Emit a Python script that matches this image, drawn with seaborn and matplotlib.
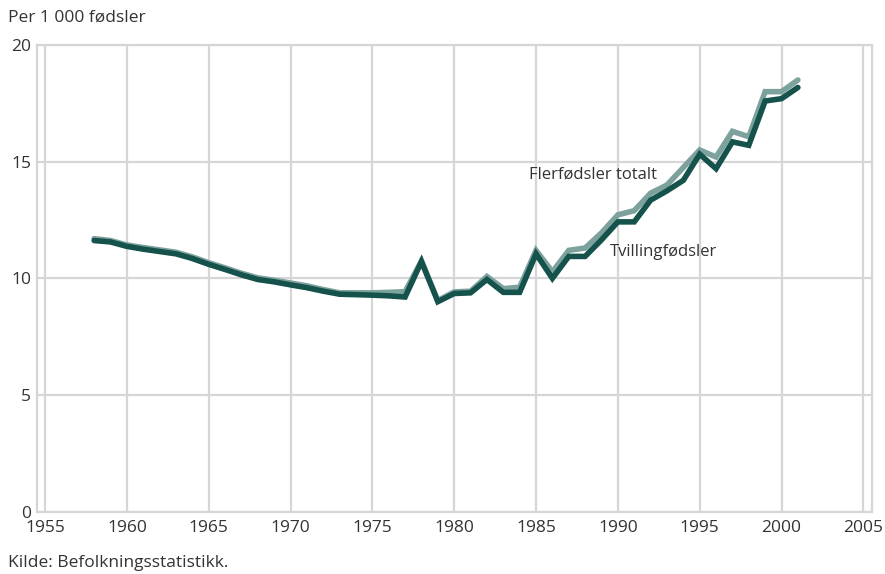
import pandas as pd
import matplotlib.pyplot as plt
import seaborn as sns

# Data
years = list(range(1958, 2002))
tvilling = [11.62, 11.56, 11.37, 11.25, 11.15, 11.05, 10.85, 10.6, 10.38, 10.15,
            9.95, 9.85, 9.72, 9.6, 9.45, 9.32, 9.3, 9.28, 9.25, 9.2,
            10.72, 9.0, 9.35, 9.38, 9.95, 9.4, 9.4, 11.05, 10.0, 10.94,
            10.94, 11.65, 12.42, 12.42, 13.35, 13.75, 14.2, 15.32, 14.7, 15.85,
            15.7, 17.6, 17.7, 18.18]
totalt = [11.7, 11.62, 11.43, 11.32, 11.22, 11.12, 10.92, 10.67, 10.45, 10.22,
          10.02, 9.92, 9.8, 9.68, 9.52, 9.38, 9.38, 9.38, 9.4, 9.43,
          10.75, 9.05, 9.42, 9.45, 10.08, 9.56, 9.62, 11.2, 10.28, 11.2,
          11.3, 11.95, 12.72, 12.9, 13.65, 14.0, 14.75, 15.5, 15.2, 16.3,
          16.07, 18.0, 18.0, 18.5]
x_ticks = [1955, 1960, 1965, 1970, 1975, 1980, 1985, 1990, 1995, 2000, 2005]
y_ticks = [0, 5, 10, 15, 20]

df = pd.DataFrame({"år": years, "Flerfødsler totalt": totalt, "Tvillingfødsler": tvilling})

sns.set_theme(style="white")
plt.rcParams['font.family'] = ['Open Sans', 'DejaVu Sans']

text_col = '#333333'
grid_col = '#d6d6d6'

fig = plt.figure(figsize=(8.85, 5.74), dpi=100)
ax = fig.add_axes([36.7 / 885, 1 - 511.7 / 574, (871.7 - 36.7) / 885, (511.7 - 45) / 574])

sns.lineplot(data=df, x="år", y="Flerfødsler totalt", color='#7da19d', linewidth=4, ax=ax,
             solid_joinstyle='miter')
sns.lineplot(data=df, x="år", y="Tvillingfødsler", color='#14524b', linewidth=4, ax=ax,
             solid_joinstyle='miter')

ax.set_xlim(1954.49, 2005.51)
ax.set_ylim(0, 20)
ax.set_xticks(x_ticks)
ax.set_yticks(y_ticks)
ax.grid(True, color=grid_col, linewidth=1.6)
ax.set_axisbelow(True)
for s in ax.spines.values():
    s.set_color(grid_col)
    s.set_linewidth(1.6)
ax.tick_params(length=0, labelsize=12.5, colors=text_col)
ax.tick_params(axis='x', pad=6)
ax.tick_params(axis='y', pad=4)
ax.set_xlabel("")
ax.set_ylabel("")

ax.text(1984.6, 14.27, "Flerfødsler totalt", fontsize=12, color=text_col)
ax.text(1989.5, 10.95, "Tvillingfødsler", fontsize=12, color=text_col)

fig.text(8 / 885, 1 - 18 / 574, "Per 1 000 fødsler", fontsize=12.5, color=text_col, va='center')
fig.text(8 / 885, 1 - 563 / 574, "Kilde: Befolkningsstatistikk.", fontsize=12.5, color=text_col, va='center')

fig.savefig("out.png", dpi=100)
